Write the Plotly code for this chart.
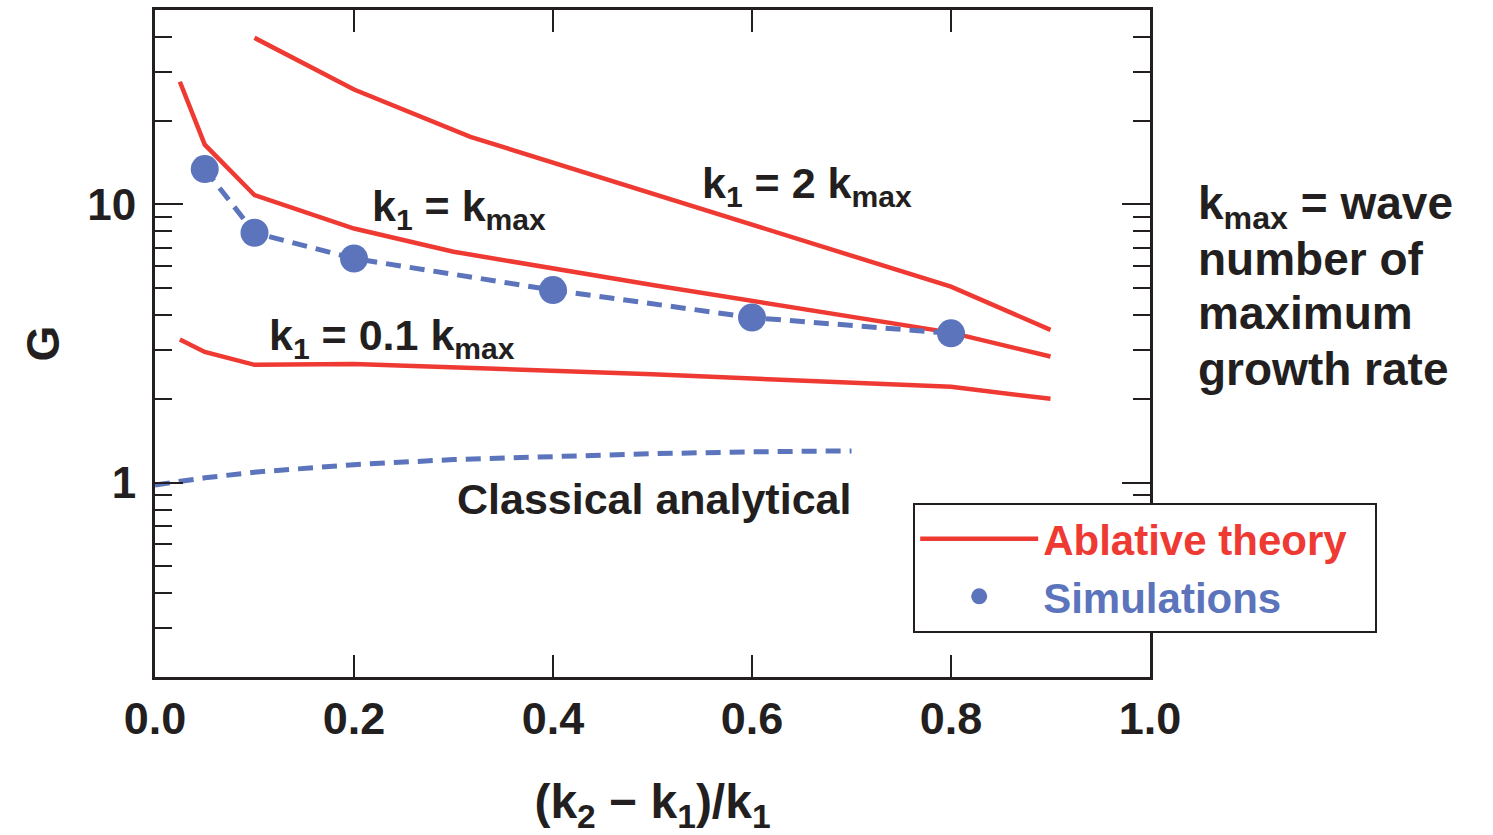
import plotly.graph_objects as go
import numpy as np

# ---- data ----
x_k2 = [0.1, 0.2, 0.317, 0.5, 0.8, 0.9]
g_k2 = [39.7, 25.9, 17.5, 10.9, 5.06, 3.54]

x_k1 = [0.025, 0.05, 0.1, 0.2, 0.3, 0.5, 0.8, 0.9]
g_k1 = [27.6, 16.4, 10.8, 8.19, 6.76, 5.13, 3.46, 2.84]

x_k01 = [0.025, 0.05, 0.1, 0.2, 0.5, 0.8, 0.9]
g_k01 = [3.27, 2.95, 2.65, 2.67, 2.45, 2.21, 2.0]

x_sim = [0.05, 0.1, 0.2, 0.4, 0.6, 0.8]
g_sim = [13.4, 7.91, 6.39, 4.92, 3.92, 3.44]

x_cl = [0.0, 0.05, 0.1, 0.2, 0.3, 0.4, 0.5, 0.6, 0.7]
g_cl = [0.98, 1.04, 1.09, 1.16, 1.21, 1.245, 1.27, 1.29, 1.30]

x_ticks = [0.0, 0.2, 0.4, 0.6, 0.8, 1.0]
x_ticktext = ["0.0", "0.2", "0.4", "0.6", "0.8", "1.0"]
y_major = [1, 10]
y_ticktext = ["1", "10"]
y_minor = [0.3, 0.4, 0.5, 0.6, 0.7, 0.8, 0.9, 2, 3, 4, 5, 6, 7, 8, 9, 20, 30, 40]

note_lines = ["k<sub>max</sub> = wave", "number of", "maximum", "growth rate"]

RED = "#ee3a33"
BLUE = "#5b74bc"
INK = "#231f20"
FONT = "Liberation Sans, Arial, sans-serif"

fig = go.Figure()

fig.add_trace(go.Scatter(x=x_cl, y=g_cl, mode="lines", showlegend=False,
                         line=dict(color=BLUE, width=5, dash="15px,9px")))
fig.add_trace(go.Scatter(x=x_k2, y=g_k2, mode="lines",
                         name=f"<b><span style='color:{RED}'>Ablative theory</span></b>&nbsp;&nbsp;",
                         legendgroup="abl", showlegend=True,
                         line=dict(color=RED, width=4.5)))
fig.add_trace(go.Scatter(x=x_k1, y=g_k1, mode="lines", legendgroup="abl",
                         showlegend=False, line=dict(color=RED, width=4.5)))
fig.add_trace(go.Scatter(x=x_k01, y=g_k01, mode="lines", legendgroup="abl",
                         showlegend=False, line=dict(color=RED, width=4.5)))
fig.add_trace(go.Scatter(x=x_sim, y=g_sim, mode="lines", showlegend=False,
                         line=dict(color=BLUE, width=5, dash="15px,9px")))
fig.add_trace(go.Scatter(x=x_sim, y=g_sim, mode="markers",
                         name=f"<b><span style='color:{BLUE}'>Simulations</span></b>",
                         marker=dict(color=BLUE, size=28)))

ann_font = dict(family=FONT, size=43, color=INK)
annotations = [
    dict(x=0.216, y=np.log10(9.6), text="<b>k<sub>1</sub> = k<sub>max</sub></b>"),
    dict(x=0.548, y=np.log10(11.6), text="<b>k<sub>1</sub> = 2 k<sub>max</sub></b>"),
    dict(x=0.1126, y=np.log10(3.3), text="<b>k<sub>1</sub> = 0.1 k<sub>max</sub></b>"),
    dict(x=0.3015, y=np.log10(0.87), text="<b>Classical analytical</b>"),
]
for a in annotations:
    a.update(xref="x", yref="y", xanchor="left", yanchor="middle",
             showarrow=False, font=ann_font)
note_y = [0.705, 0.627, 0.545, 0.462]
for t, yy in zip(note_lines, note_y):
    annotations.append(dict(
        xref="paper", yref="paper", x=1.046, y=yy, xanchor="left", yanchor="middle",
        align="left", showarrow=False, font=dict(family=FONT, size=46, color=INK),
        text=f"<b>{t}</b>"))

fig.update_layout(
    width=1493, height=835,
    margin=dict(l=155, r=343, t=10, b=158),
    plot_bgcolor="white", paper_bgcolor="white",
    font=dict(family=FONT, color=INK),
    annotations=annotations,
    legend=dict(x=0.762, y=0.261, xanchor="left", yanchor="top",
                bordercolor=INK, borderwidth=2, bgcolor="white",
                font=dict(family=FONT, size=42, color=INK),
                itemwidth=118, tracegroupgap=0),
    xaxis=dict(range=[0, 1], tickvals=x_ticks, ticktext=[f"<b>{t}</b>" for t in x_ticktext],
               ticks="inside", ticklen=22, tickwidth=2, tickcolor=INK,
               showline=True, linewidth=3, linecolor=INK, mirror="ticks",
               showgrid=False, zeroline=False, automargin=False,
               tickfont=dict(family=FONT, size=45, color=INK),
               ticklabelstandoff=0,
               title=dict(text="<b>(k<sub>2</sub> − k<sub>1</sub>)/k<sub>1</sub></b>",
                          font=dict(family=FONT, size=48, color=INK), standoff=58)),
    yaxis=dict(type="log", range=[np.log10(0.2), np.log10(50)],
               tickvals=y_major, ticktext=[f"<b>{t}</b>" for t in y_ticktext],
               ticks="inside", ticklen=28, tickwidth=2, tickcolor=INK,
               showline=True, linewidth=3, linecolor=INK, mirror="ticks",
               showgrid=False, zeroline=False, automargin=False,
               tickfont=dict(family=FONT, size=44, color=INK),
               ticklabelstandoff=7,
               minor=dict(tickmode="array", tickvals=y_minor, ticks="inside",
                          ticklen=17, tickwidth=2, tickcolor=INK, showgrid=False),
               title=dict(text="<b>G</b>", font=dict(family=FONT, size=46, color=INK),
                          standoff=14)),
)

fig.write_html("out.html")
